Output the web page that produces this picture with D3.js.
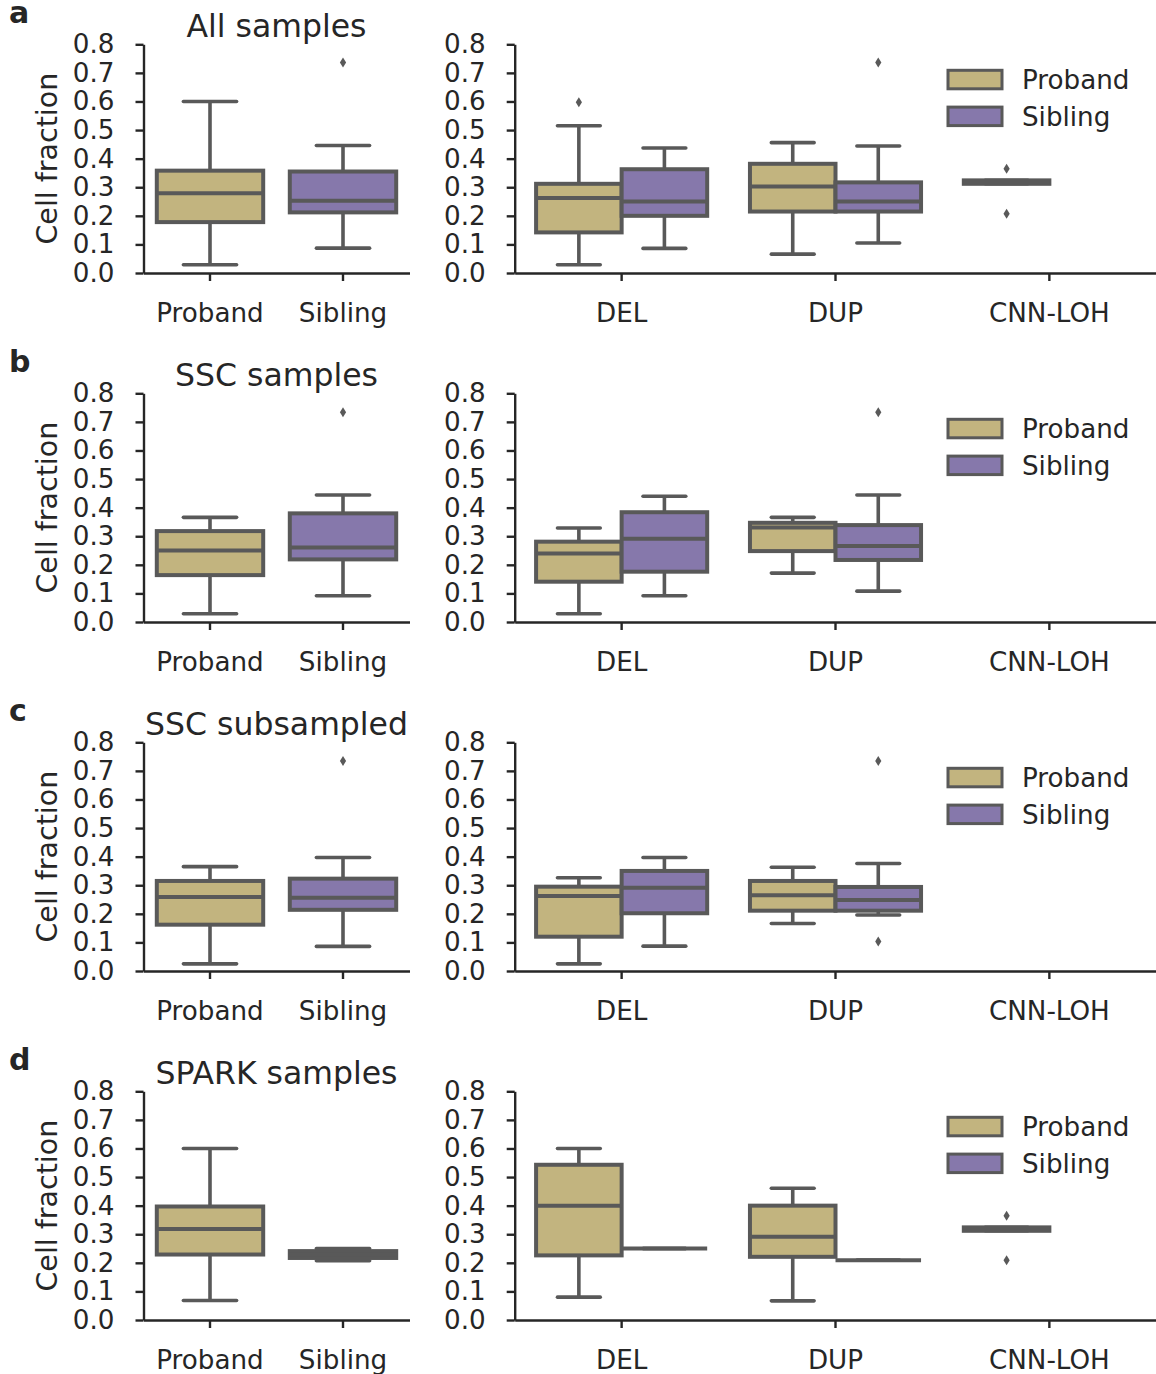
<!DOCTYPE html>
<html>
<head>
<meta charset="utf-8">
<script src="https://cdn.jsdelivr.net/npm/d3@7"></script>
<style>
  html, body { margin: 0; padding: 0; background: #ffffff; }
  svg { display: block; }
  text { font-family: "DejaVu Sans", sans-serif; fill: #262626; }
</style>
</head>
<body>
<svg id="chart" width="1156" height="1374"></svg>
<script>
// ---- data -----------------------------------------------------------------
// Each box: [lower whisker, Q1, median, Q3, upper whisker]; outliers listed separately.
const panelLetters = ["a", "b", "c", "d"];
const panelTitles = ["All samples", "SSC samples", "SSC subsampled", "SPARK samples"];
const groups = ["Proband", "Sibling"];
const cnvTypes = ["DEL", "DUP", "CNN-LOH"];
const yTicks = [0, 0.1, 0.2, 0.3, 0.4, 0.5, 0.6, 0.7, 0.8];

// Left column: cell fraction by family role
const allSamplesByGroup = [
  { group: "Proband", stats: [0.029, 0.178, 0.279, 0.358, 0.600], outliers: [] },
  { group: "Sibling", stats: [0.087, 0.212, 0.253, 0.355, 0.446], outliers: [0.736] }
];
const sscByGroup = [
  { group: "Proband", stats: [0.029, 0.164, 0.250, 0.318, 0.366], outliers: [] },
  { group: "Sibling", stats: [0.092, 0.219, 0.261, 0.380, 0.444], outliers: [0.734] }
];
const sscSubByGroup = [
  { group: "Proband", stats: [0.025, 0.162, 0.259, 0.315, 0.365], outliers: [] },
  { group: "Sibling", stats: [0.086, 0.214, 0.256, 0.323, 0.397], outliers: [0.735] }
];
const sparkByGroup = [
  { group: "Proband", stats: [0.068, 0.229, 0.318, 0.397, 0.600], outliers: [] },
  { group: "Sibling", stats: [0.207, 0.217, 0.228, 0.241, 0.250], outliers: [] }
];

// Right column: cell fraction by CNV type and family role
const allSamplesByType = [
  { type: "DEL", group: "Proband", stats: [0.029, 0.142, 0.262, 0.312, 0.515], outliers: [0.597] },
  { type: "DEL", group: "Sibling", stats: [0.086, 0.200, 0.250, 0.363, 0.437], outliers: [] },
  { type: "DUP", group: "Proband", stats: [0.066, 0.215, 0.303, 0.382, 0.456], outliers: [] },
  { type: "DUP", group: "Sibling", stats: [0.105, 0.215, 0.250, 0.317, 0.444], outliers: [0.736] },
  { type: "CNN-LOH", group: "Proband", stats: [0.312, 0.312, 0.318, 0.324, 0.324], outliers: [0.365, 0.207] }
];
const sscByType = [
  { type: "DEL", group: "Proband", stats: [0.029, 0.141, 0.240, 0.281, 0.329], outliers: [] },
  { type: "DEL", group: "Sibling", stats: [0.092, 0.176, 0.291, 0.384, 0.440], outliers: [] },
  { type: "DUP", group: "Proband", stats: [0.171, 0.248, 0.331, 0.347, 0.366], outliers: [] },
  { type: "DUP", group: "Sibling", stats: [0.108, 0.217, 0.266, 0.339, 0.444], outliers: [0.734] }
];
const sscSubByType = [
  { type: "DEL", group: "Proband", stats: [0.025, 0.120, 0.262, 0.295, 0.326], outliers: [] },
  { type: "DEL", group: "Sibling", stats: [0.087, 0.202, 0.291, 0.350, 0.397], outliers: [] },
  { type: "DUP", group: "Proband", stats: [0.166, 0.211, 0.265, 0.315, 0.363], outliers: [] },
  { type: "DUP", group: "Sibling", stats: [0.196, 0.211, 0.248, 0.294, 0.376], outliers: [0.735, 0.103] }
];
const sparkByType = [
  { type: "DEL", group: "Proband", stats: [0.080, 0.226, 0.400, 0.543, 0.600], outliers: [] },
  { type: "DEL", group: "Sibling", stats: [0.250, 0.250, 0.250, 0.250, 0.250], outliers: [] },
  { type: "DUP", group: "Proband", stats: [0.067, 0.221, 0.291, 0.400, 0.461], outliers: [] },
  { type: "DUP", group: "Sibling", stats: [0.209, 0.209, 0.209, 0.209, 0.209], outliers: [] },
  { type: "CNN-LOH", group: "Proband", stats: [0.312, 0.312, 0.318, 0.324, 0.324], outliers: [0.365, 0.209] }
];

const leftPanels = [allSamplesByGroup, sscByGroup, sscSubByGroup, sparkByGroup];
const rightPanels = [allSamplesByType, sscByType, sscSubByType, sparkByType];

// ---- styling --------------------------------------------------------------
const fillColor = d3.scaleOrdinal().domain(groups).range(["#c2b47f", "#8678ab"]);
const lineGray = "#595959";
const axisColor = "#262626";
const boxStroke = 4;
const whiskerStroke = 3.6;

// ---- layout ---------------------------------------------------------------
const svg = d3.select("#chart");
svg.append("rect").attr("width", 1156).attr("height", 1374).attr("fill", "#ffffff");

const panelStep = 349;
const firstTop = 44.3;
const plotHeight = 228.7;
const leftRange = [143.5, 409.5];
const rightRange = [514.7, 1156.3];

const diamond = "M0,-5L3.1,0L0,5L-3.1,0Z";

function drawBox(g, cx, width, d, y) {
  const [lo, q1, med, q3, hi] = d.stats;
  const half = width / 2;
  const capHalf = width / 4;
  const gb = g.append("g").attr("class", "box");
  // whiskers
  gb.append("line").attr("x1", cx).attr("x2", cx).attr("y1", y(q3)).attr("y2", y(hi))
    .attr("stroke", lineGray).attr("stroke-width", whiskerStroke);
  gb.append("line").attr("x1", cx).attr("x2", cx).attr("y1", y(q1)).attr("y2", y(lo))
    .attr("stroke", lineGray).attr("stroke-width", whiskerStroke);
  // caps
  [lo, hi].forEach(v => {
    gb.append("line").attr("x1", cx - capHalf).attr("x2", cx + capHalf)
      .attr("y1", y(v)).attr("y2", y(v))
      .attr("stroke", lineGray).attr("stroke-width", whiskerStroke).attr("stroke-linecap", "round");
  });
  // box
  gb.append("rect").attr("x", cx - half).attr("width", width)
    .attr("y", y(q3)).attr("height", Math.max(0, y(q1) - y(q3)))
    .attr("fill", fillColor(d.group)).attr("stroke", lineGray).attr("stroke-width", boxStroke);
  // median
  gb.append("line").attr("x1", cx - half).attr("x2", cx + half)
    .attr("y1", y(med)).attr("y2", y(med))
    .attr("stroke", lineGray).attr("stroke-width", boxStroke);
  // outliers
  gb.selectAll("path.flier").data(d.outliers).join("path").attr("class", "flier")
    .attr("d", diamond)
    .attr("transform", v => `translate(${cx},${y(v)})`)
    .attr("fill", lineGray);
}

function styleAxis(ax) {
  ax.select(".domain").attr("stroke", axisColor).attr("stroke-width", 2.4);
  ax.selectAll(".tick line").attr("stroke", axisColor).attr("stroke-width", 2.4);
  ax.selectAll(".tick text").attr("font-size", 26.2).attr("fill", axisColor)
    .attr("font-family", "DejaVu Sans, sans-serif");
}

panelLetters.forEach((letter, i) => {
  const top = firstTop + i * panelStep;
  const bottom = top + plotHeight;
  const y = d3.scaleLinear().domain([0, 0.8]).range([bottom, top]);
  const panel = svg.append("g").attr("class", "panel-" + letter);

  // panel letter
  panel.append("text").attr("x", 9).attr("y", top - 21)
    .attr("font-size", 30).attr("font-weight", "bold").attr("fill", "#1a1a1a")
    .text(letter);

  // ---------- left axes: by family role ----------
  const xg = d3.scaleBand().domain(groups).range(leftRange).padding(0);
  const left = panel.append("g");
  left.append("text")
    .attr("x", (leftRange[0] + leftRange[1]) / 2).attr("y", top - 7)
    .attr("text-anchor", "middle").attr("font-size", 31.5)
    .text(panelTitles[i]);
  left.append("text")
    .attr("transform", `translate(57,${(top + bottom) / 2}) rotate(-90)`)
    .attr("text-anchor", "middle").attr("font-size", 28.5)
    .text("Cell fraction");

  leftPanels[i].forEach(d => {
    const cx = xg(d.group) + xg.bandwidth() / 2;
    drawBox(left, cx, xg.bandwidth() * 0.8, d, y);
  });

  const lyAxis = left.append("g").attr("transform", `translate(${leftRange[0]},0)`)
    .call(d3.axisLeft(y).tickValues(yTicks).tickFormat(d3.format(".1f"))
      .tickSize(8).tickSizeOuter(0).tickPadding(21));
  styleAxis(lyAxis);
  const lxAxis = left.append("g").attr("transform", `translate(0,${bottom})`)
    .call(d3.axisBottom(xg).tickSize(8).tickSizeOuter(0).tickPadding(22));
  styleAxis(lxAxis);

  // ---------- right axes: by CNV type ----------
  const xt = d3.scaleBand().domain(cnvTypes).range(rightRange).padding(0);
  const xh = d3.scaleBand().domain(groups).range([0, xt.bandwidth() * 0.8]).padding(0);
  const right = panel.append("g");

  rightPanels[i].forEach(d => {
    const cx = xt(d.type) + xt.bandwidth() * 0.1 + xh(d.group) + xh.bandwidth() / 2;
    drawBox(right, cx, xh.bandwidth(), d, y);
  });

  const ryAxis = right.append("g").attr("transform", `translate(${rightRange[0]},0)`)
    .call(d3.axisLeft(y).tickValues(yTicks).tickFormat(d3.format(".1f"))
      .tickSize(8).tickSizeOuter(0).tickPadding(21));
  styleAxis(ryAxis);
  const rxAxis = right.append("g").attr("transform", `translate(0,${bottom})`)
    .call(d3.axisBottom(xt).tickSize(8).tickSizeOuter(0).tickPadding(22));
  styleAxis(rxAxis);

  // legend
  const legend = right.append("g").attr("transform", `translate(948,${top + 26})`);
  groups.forEach((g, k) => {
    const row = legend.append("g").attr("transform", `translate(0,${k * 36.8})`);
    row.append("rect").attr("x", 0).attr("y", 0).attr("width", 54).attr("height", 18.5)
      .attr("fill", fillColor(g)).attr("stroke", lineGray).attr("stroke-width", 3);
    row.append("text").attr("x", 74).attr("y", 18.5).attr("font-size", 26.2).text(g);
  });
});
</script>
</body>
</html>
